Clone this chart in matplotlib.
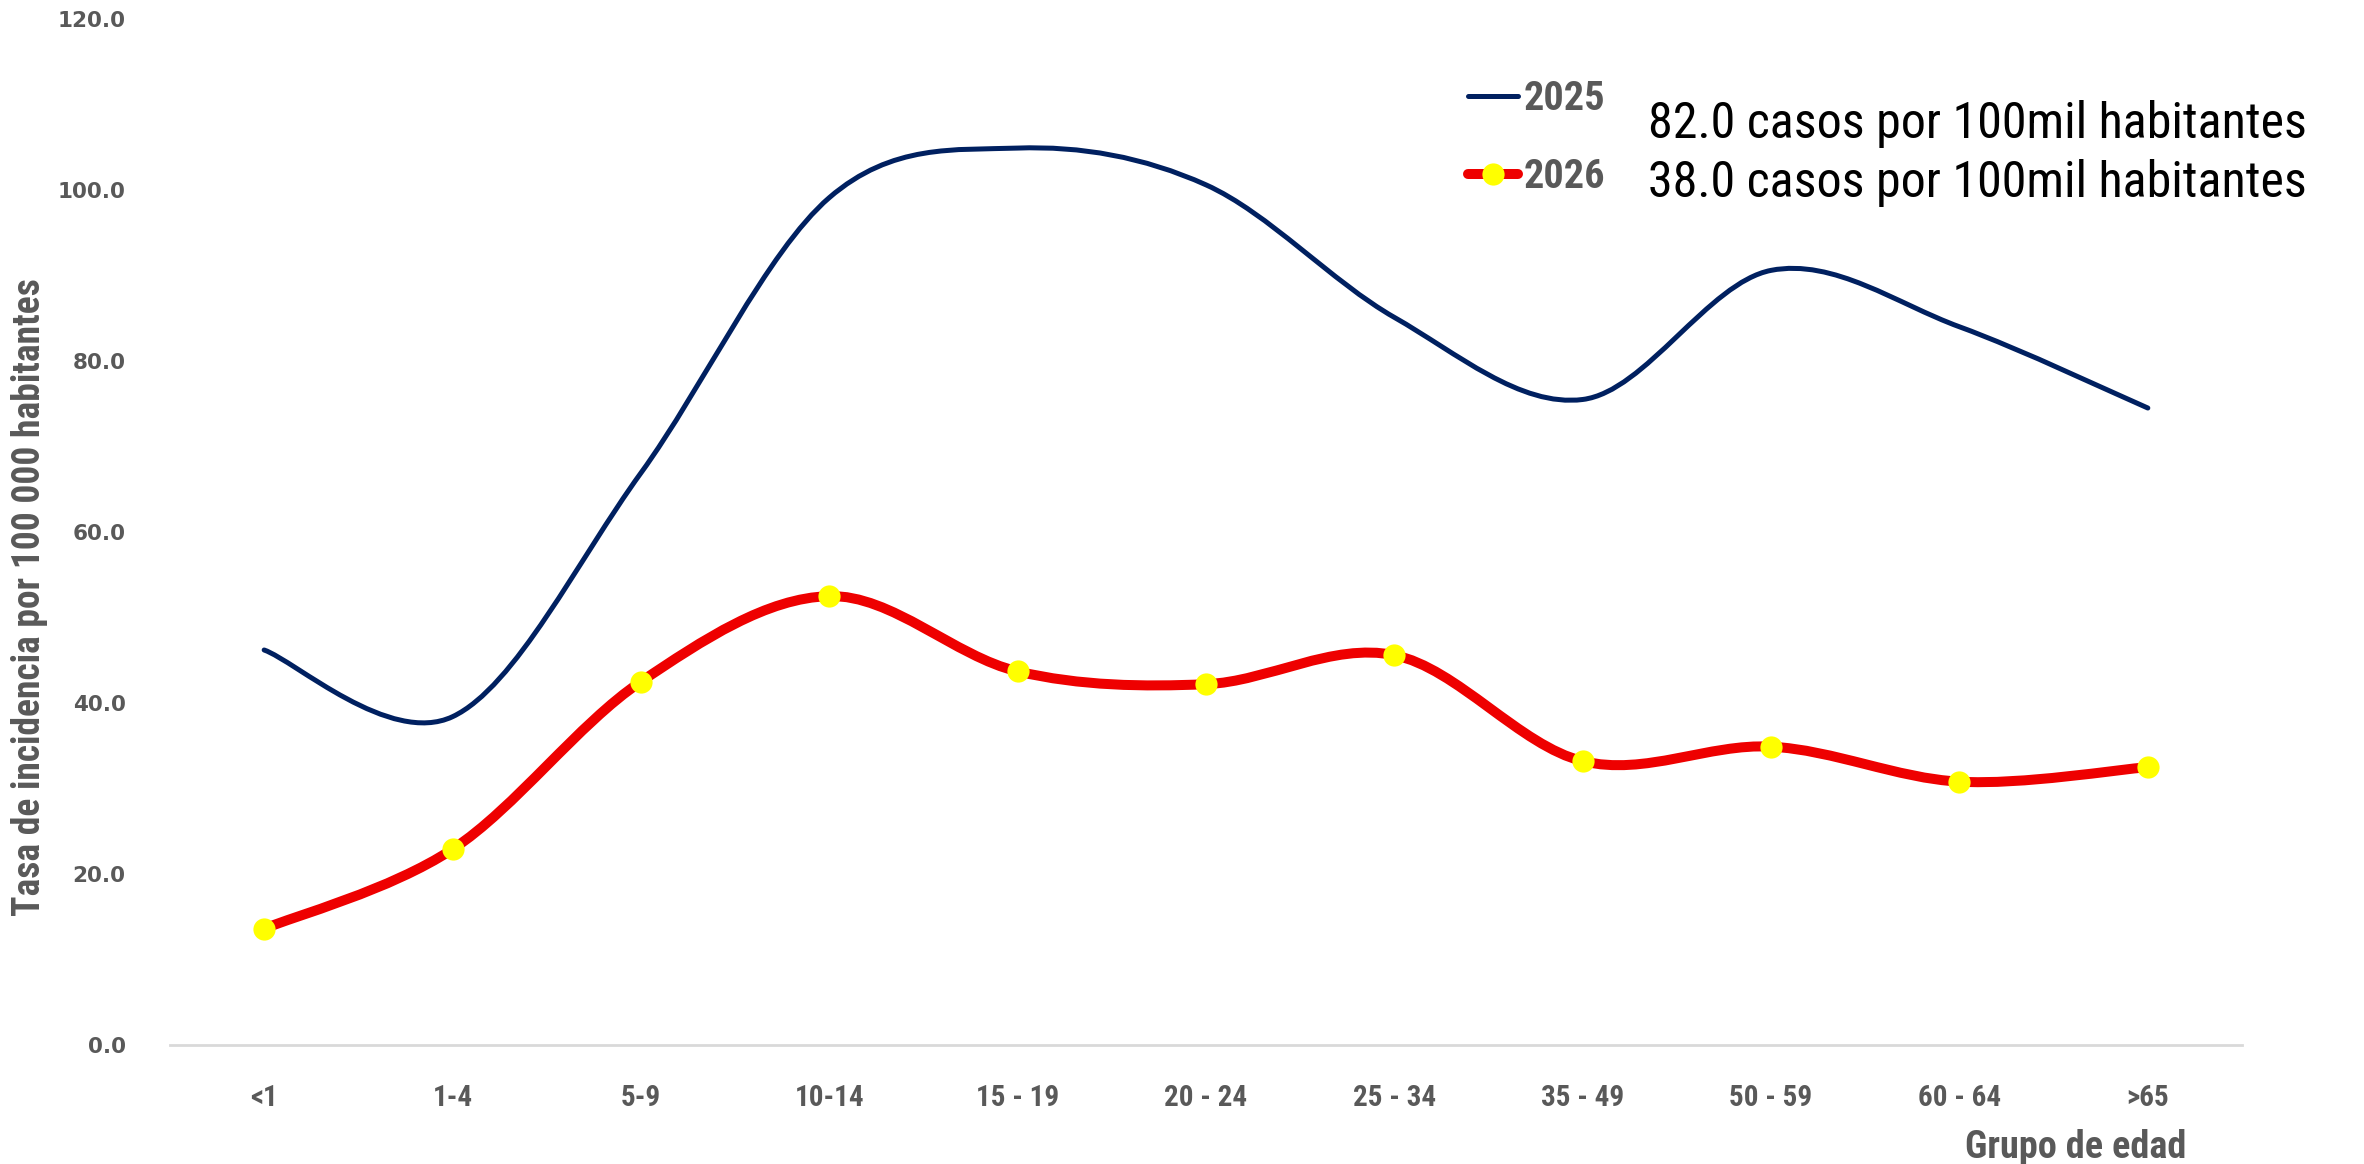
import numpy as np
import matplotlib.pyplot as plt
from matplotlib.path import Path
from matplotlib.patches import PathPatch
from matplotlib.lines import Line2D

# Data
grupos = ["<1", "1-4", "5-9", "10-14", "15 - 19", "20 - 24", "25 - 34",
          "35 - 49", "50 - 59", "60 - 64", ">65"]
tasa_2025 = [46.2, 38.4, 66.9, 99.1, 104.9, 100.6, 85.1, 75.5, 90.6, 84.0, 74.5]
tasa_2026 = [13.6, 22.9, 42.5, 52.5, 43.7, 42.2, 45.6, 33.2, 34.9, 30.8, 32.5]
resumen = ["82.0 casos por 100mil habitantes", "38.0 casos por 100mil habitantes"]
yticks = [0, 20, 40, 60, 80, 100, 120]

COND = ["Roboto Condensed", "PT Sans Narrow", "DejaVu Sans"]
GRAY = "#595959"


def smooth_path(xs, ys):
    # Excel-style smoothed line: cubic Bezier through every point
    pts = np.column_stack([xs, ys]).astype(float)
    n = len(pts)
    verts = [pts[0]]
    codes = [Path.MOVETO]
    for i in range(n - 1):
        p0 = pts[max(i - 1, 0)]
        p1 = pts[i]
        p2 = pts[i + 1]
        p3 = pts[min(i + 2, n - 1)]
        c1 = p1 + (p2 - p0) / 6
        c2 = p2 - (p3 - p1) / 6
        verts += [c1, c2, p2]
        codes += [Path.CURVE4] * 3
    return Path(verts, codes)


fig = plt.figure(figsize=(23.64, 11.64), dpi=100)
ax = fig.add_axes([0.0719, 0.1022, 0.8765, 0.8815])

x = np.arange(len(grupos))
ax.add_patch(PathPatch(smooth_path(x, tasa_2025), fill=False, edgecolor="#002060",
                       lw=3.6, capstyle="round"))
ax.add_patch(PathPatch(smooth_path(x, tasa_2026), fill=False, edgecolor="#ee0000",
                       lw=7.2, capstyle="round"))
ax.plot(x, tasa_2026, linestyle="none", marker="o", markersize=16,
        markerfacecolor="#ffff00", markeredgecolor="none", zorder=5)

ax.set_xlim(-0.5, len(grupos) - 0.5)
ax.set_ylim(0, 120)
ax.set_yticks(yticks)
ax.set_yticklabels([f"{v:.1f}" for v in yticks], fontsize=15.5, fontweight="bold",
                   color=GRAY, family="DejaVu Sans")
ax.set_xticks(x)
ax.set_xticklabels(grupos, fontsize=21, fontweight="bold", color=GRAY, family=COND)
ax.tick_params(axis="both", length=0)
ax.tick_params(axis="x", pad=28)
ax.tick_params(axis="y", pad=32)

for s in ["top", "right", "left"]:
    ax.spines[s].set_visible(False)
ax.spines["bottom"].set_color("#d9d9d9")
ax.spines["bottom"].set_linewidth(2)

fig.text(0.0125, 0.487, "Tasa de incidencia por 100 000 habitantes", rotation=90,
         ha="center", va="center", fontsize=27, fontweight="bold", color=GRAY,
         family=COND)
fig.text(0.9247, 1 - 1148 / 1164, "Grupo de edad", ha="right", va="center",
         fontsize=27.5, fontweight="bold", color=GRAY, family=COND)

handles = [Line2D([], [], color="#002060", lw=3.6, solid_capstyle="round"),
           Line2D([], [], color="#ee0000", lw=7.2, marker="o", markersize=16,
                  markerfacecolor="#ffff00", markeredgecolor="none",
                  solid_capstyle="round")]
leg = ax.legend(handles, ["2025", "2026"], loc="center left",
                bbox_to_anchor=(0.609, 0.884), frameon=False, handlelength=1.25,
                handletextpad=0.12, labelspacing=1.0, borderpad=0.4,
                prop={"family": COND, "weight": "bold", "size": 29})
for t in leg.get_texts():
    t.set_color(GRAY)

fig.text(0.697, 1 - 124 / 1164, resumen[0], ha="left", va="center", fontsize=36,
         color="black", family=COND)
fig.text(0.697, 1 - 183 / 1164, resumen[1], ha="left", va="center", fontsize=36,
         color="black", family=COND)

fig.savefig("out.png", dpi=100, facecolor="white")
